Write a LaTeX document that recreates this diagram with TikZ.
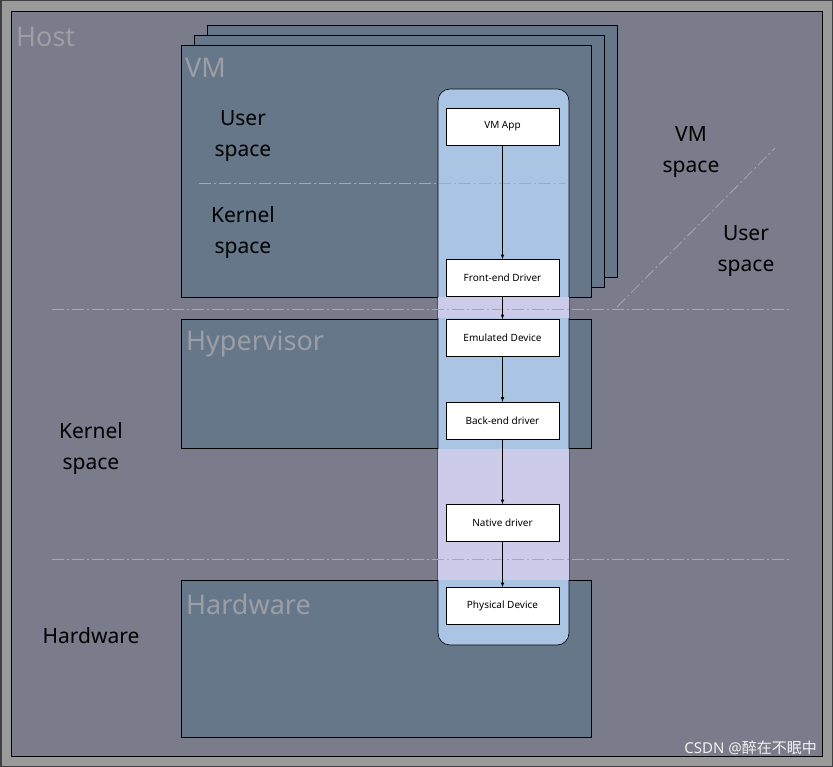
\documentclass[tikz,border=0pt]{standalone}
\usepackage{fontspec}
\setmainfont{Noto Sans}
\newfontfamily\cjk{Noto Sans CJK SC}
\definecolor{outer}{HTML}{9A9A9A}
\definecolor{host}{HTML}{7A7B8B}
\definecolor{vmc}{HTML}{657789}
\definecolor{pill}{HTML}{AAC4E4}
\definecolor{lav}{HTML}{CCCCEA}
\definecolor{faint}{HTML}{9C9EA6}
\definecolor{dd}{HTML}{A8A8A8}
\begin{document}
\begin{tikzpicture}[x=1pt,y=-1pt,
  panel/.style={fill=vmc,draw=black,line width=0.8pt},
  dev/.style={draw=black,fill=white,minimum width=113pt,minimum height=37pt,inner sep=0pt,font=\fontsize{10}{12}\selectfont},
  big/.style={anchor=west,text=faint,font=\fontsize{27}{30}\selectfont,inner sep=0pt},
  lab/.style={align=center,font=\fontsize{21}{31}\selectfont,inner sep=0pt},
  dd/.style={draw=dd,dash pattern=on 12pt off 3pt on 2pt off 3pt,line width=0.8pt},
  arr/.style={-latex,draw=black,line width=0.6pt}]
\useasboundingbox (0,0) rectangle (833,767);
\draw[fill=outer,draw=black!75,line width=1.5pt] (0.75,0.75) rectangle (832.25,766.25);
\draw[fill=host,draw=black,line width=0.8pt] (11,11) rectangle (822,756);
\draw[panel] (207,25) rectangle (617,277);
\draw[panel] (194,35) rectangle (604,287);
\draw[panel] (181,45) rectangle (591,297);
\draw[panel] (181,319) rectangle (591,448);
\draw[panel] (181,580) rectangle (591,737);
\draw[fill=pill,draw=black,rounded corners=12pt,line width=0.6pt] (438,89) rectangle (569,645);
\fill[lav] (438.4,297.5) rectangle (568.6,318.5);
\fill[lav] (438.4,448.5) rectangle (568.6,579.5);
\draw[dd] (199,183) -- (565,183);
\draw[dd] (52,309) -- (790,309);
\draw[dd] (52,559) -- (790,559);
\draw[dd] (617,307) -- (775,148);
\node[big] (thost) at (16,37) {Host};
\node[big] (tvm) at (185,68) {VM};
\node[big] (thyp) at (186,344) {Hypervisor};
\node[big] (thw) at (186,604) {Hardware};
\node[lab] (us1) at (243,136) {User\\space};
\node[lab] (ks1) at (243,233) {Kernel\\space};
\node[lab] (vms) at (691,152) {VM\\space};
\node[lab] (us2) at (746,251) {User\\space};
\node[lab] (ks2) at (91,449) {Kernel\\space};
\node[lab] (hw2) at (91,636) {Hardware};
\node[dev] (app) at (502.5,126.5) {VM App};
\node[dev] (fe) at (502.5,278) {Front-end Driver};
\node[dev] (em) at (502.5,338) {Emulated Device};
\node[dev] (be) at (502.5,420.5) {Back-end driver};
\node[dev] (nd) at (502.5,523) {Native driver};
\node[dev] (pd) at (502.5,606) {Physical Device};
\draw[arr] (app) -- (fe);
\draw[arr] (fe) -- (em);
\draw[arr] (em) -- (be);
\draw[arr] (be) -- (nd);
\draw[arr] (nd) -- (pd);
\node[anchor=east,text=white!90!gray,font=\fontsize{15}{18}\selectfont,inner sep=0pt] (wm) at (817,748) {CSDN @{\cjk 醉在不眠中}};
\end{tikzpicture}
\end{document}
